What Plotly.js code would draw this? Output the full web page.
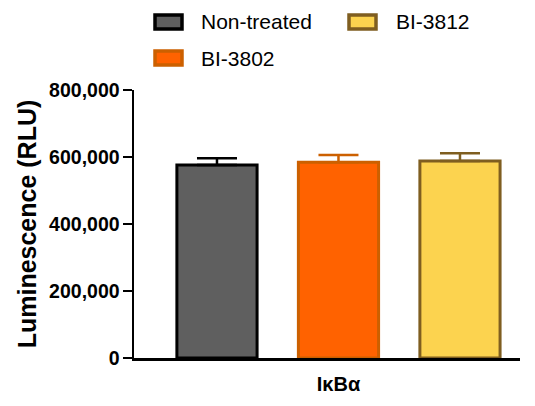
<!DOCTYPE html>
<html>
<head>
<meta charset="utf-8">
<script src="https://cdn.plot.ly/plotly-3.0.1.min.js"></script>
<style>html,body{margin:0;padding:0;background:#fff;}#chart{width:535px;height:406px;}</style>
</head>
<body>
<div id="chart"></div>
<script>
// Data
const groupLabel = ["IκBα"];
const seriesNames = ["Non-treated", "BI-3802", "BI-3812"];
const nonTreated = [576000];
const bi3802 = [584000];
const bi3812 = [588000];
const errNonTreated = [20000];
const errBi3802 = [22000];
const errBi3812 = [23000];
const yTicks = [0, 200000, 400000, 600000, 800000];

const fills = ["#5f5f5f", "#ff6200", "#fcd34f"];
const lines = ["#000000", "#cc6000", "#7f5e20"];
const values = [nonTreated, bi3802, bi3812];
const errs = [errNonTreated, errBi3802, errBi3812];

const FONT = "Arial, 'Liberation Sans', sans-serif";
const W = 535, H = 406;
const M = {l: 134, r: 15, t: 90, b: 48};
const PW = W - M.l - M.r, PH = H - M.t - M.b;
const px = x => (x - M.l) / PW;
const py = y => (H - M.b - y) / PH;

const traces = seriesNames.map((name, i) => ({
  type: "bar",
  name: name,
  x: groupLabel,
  y: values[i],
  marker: {color: fills[i], line: {color: lines[i], width: 3}},
  error_y: {type: "data", symmetric: false, array: errs[i], arrayminus: [0],
            color: lines[i], thickness: 2.5, width: 20},
  showlegend: false
}));

// legend built as swatches + labels
const legendPos = [
  {sx: 155, sy: 15, tx: 199, ty: 22},
  {sx: 155, sy: 51, tx: 199, ty: 58},
  {sx: 349, sy: 15, tx: 394, ty: 22}
];
const shapes = legendPos.map((p, i) => ({
  type: "rect", xref: "paper", yref: "paper",
  x0: px(p.sx), x1: px(p.sx + 27), y0: py(p.sy + 14), y1: py(p.sy),
  fillcolor: fills[i], line: {color: lines[i], width: 3.5}
}));
const annotations = legendPos.map((p, i) => ({
  xref: "paper", yref: "paper", x: px(p.tx), y: py(p.ty),
  xanchor: "left", yanchor: "middle", showarrow: false,
  text: seriesNames[i], font: {family: FONT, size: 21, color: "#000"}
}));

const layout = {
  width: W, height: H,
  margin: M,
  paper_bgcolor: "#fff", plot_bgcolor: "#fff",
  barmode: "group", bargap: 0, bargroupgap: 0.34,
  font: {family: FONT, color: "#000"},
  xaxis: {
    type: "category", range: [-0.561, 0.498],
    showline: true, linecolor: "#000", linewidth: 2.5,
    showgrid: false, zeroline: false, ticks: "",
    ticklabelstandoff: 6,
    tickfont: {family: FONT, size: 20, weight: "bold", color: "#000"},
    fixedrange: true
  },
  yaxis: {
    range: [0, 800000], tickvals: yTicks, tickformat: ",",
    showline: true, linecolor: "#000", linewidth: 2.5,
    ticks: "outside", ticklen: 9, tickwidth: 2.5, tickcolor: "#000",
    ticklabelstandoff: -1,
    showgrid: false, zeroline: false,
    tickfont: {family: FONT, size: 19.5, weight: "bold", color: "#000"},
    title: {text: "Luminescence (RLU)", font: {family: FONT, size: 25, weight: "bold", color: "#000"}, standoff: 6},
    fixedrange: true
  },
  shapes: shapes,
  annotations: annotations
};

Plotly.newPlot("chart", traces, layout, {displayModeBar: false, staticPlot: true});
</script>
</body>
</html>
